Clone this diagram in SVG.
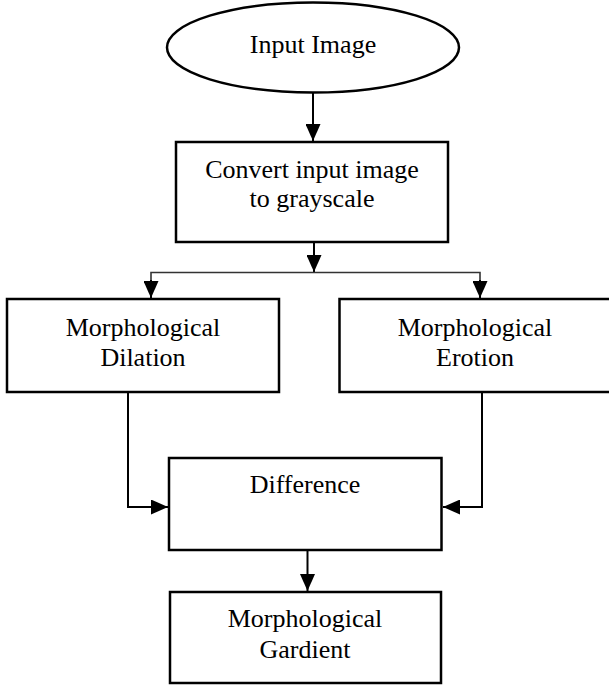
<svg xmlns="http://www.w3.org/2000/svg" width="609" height="686" viewBox="0 0 609 686">
<defs>
<style>
.n{fill:#fff;stroke:#000;stroke-width:2.5}
.t{font-family:"Liberation Serif","Times New Roman",serif;font-size:26px;fill:#000;text-anchor:middle}
.c{fill:none;stroke:#000;stroke-width:2}
.s{fill:none;stroke:#333;stroke-width:1.6}
</style>
<marker id="ah" viewBox="0 0 17 15" refX="17" refY="7.5" markerWidth="17" markerHeight="15" markerUnits="userSpaceOnUse" orient="auto">
<path d="M0,0 L17,7.5 L0,15 z" fill="#000"/>
</marker>
</defs>
<rect width="609" height="686" fill="#fff"/>
<g id="connectors">
<line class="c" x1="313" y1="93" x2="313" y2="141" marker-end="url(#ah)"/>
<line class="c" x1="314" y1="243" x2="314" y2="272" marker-end="url(#ah)"/>
<polyline class="s" points="151,298 151,272.5 480,272.5 480,298"/>
<line class="c" x1="151" y1="280" x2="151" y2="298" marker-end="url(#ah)"/>
<line class="c" x1="480" y1="280" x2="480" y2="298" marker-end="url(#ah)"/>
<polyline class="c" points="128,393 128,507 168,507" marker-end="url(#ah)"/>
<polyline class="c" points="482,393 482,507 443,507" marker-end="url(#ah)"/>
<line class="c" x1="307.5" y1="551" x2="307.5" y2="591" marker-end="url(#ah)"/>
</g>
<g id="input-image">
<ellipse class="n" cx="313" cy="47.5" rx="146" ry="45"/>
<text class="t" x="313" y="53">Input Image</text>
</g>
<g id="grayscale">
<rect class="n" x="176" y="142" width="272" height="100"/>
<text class="t" x="312" y="178">Convert input image</text>
<text class="t" x="312" y="207">to grayscale</text>
</g>
<g id="dilation">
<rect class="n" x="7" y="299" width="272" height="93"/>
<text class="t" x="143" y="336">Morphological</text>
<text class="t" x="143" y="366">Dilation</text>
</g>
<g id="erotion">
<rect class="n" x="339.5" y="299" width="272" height="93"/>
<text class="t" x="475" y="336">Morphological</text>
<text class="t" x="475" y="366">Erotion</text>
</g>
<g id="difference">
<rect class="n" x="169" y="458" width="272.5" height="92"/>
<text class="t" x="305" y="493">Difference</text>
</g>
<g id="gradient">
<rect class="n" x="170" y="592" width="271" height="91"/>
<text class="t" x="305" y="627">Morphological</text>
<text class="t" x="305" y="658">Gardient</text>
</g>
</svg>
